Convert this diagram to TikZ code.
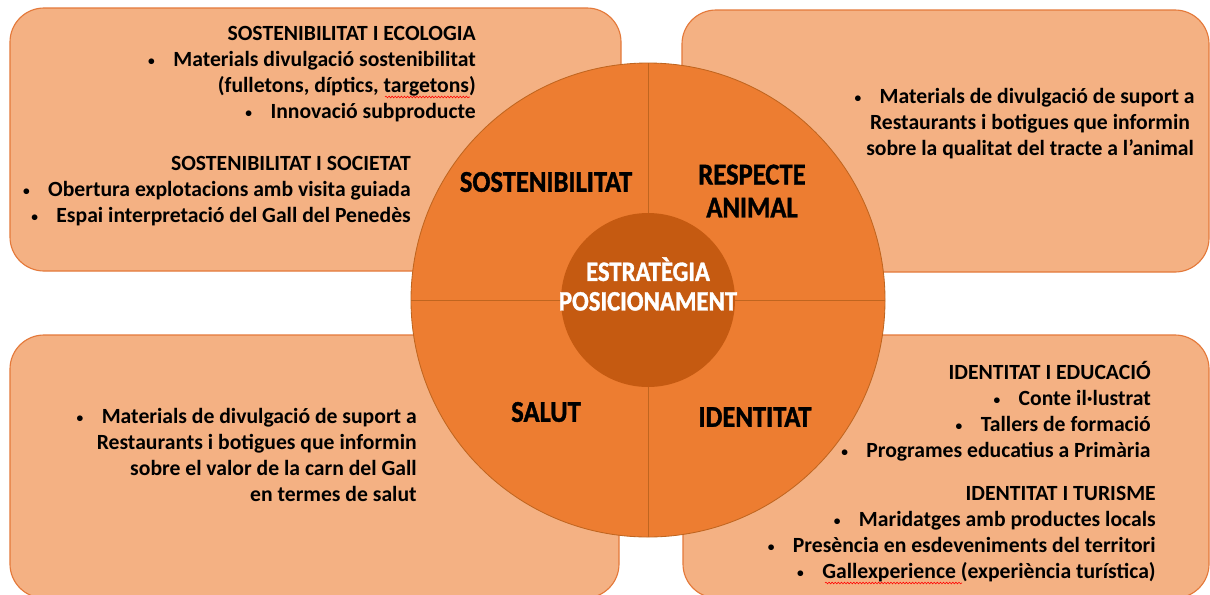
\documentclass[tikz,border=0pt]{standalone}
\usepackage{fontspec}
\setmainfont{Carlito}
\newfontfamily\narrowfont[FakeStretch=0.88,BoldFeatures={FakeBold=1.2}]{Carlito}
\usepackage{xcolor}
\definecolor{boxfill}{HTML}{F4B183}
\definecolor{boxline}{HTML}{E4793A}
\definecolor{quadfill}{HTML}{ED7D31}
\definecolor{quadline}{HTML}{C0651F}
\definecolor{corefill}{HTML}{C55A11}
\usepackage{tikz}
\usetikzlibrary{positioning,decorations.pathmorphing}

\newcommand{\blt}{\raisebox{0.12ex}{\scalebox{0.62}{\textbullet}}\hspace{0.85em}}

\begin{document}
\begin{tikzpicture}[x=0.025cm,y=-0.025cm,
box/.style={draw=boxline,fill=boxfill,line width=0.8pt,rounded corners=0.85cm},
txt/.style={font=\bfseries\fontsize{15.4}{18.5}\selectfont,inner sep=0pt,align=right,anchor=east},
quad/.style={font=\narrowfont\bfseries\fontsize{21.5}{23.5}\selectfont,inner sep=0pt,align=center},
core/.style={font=\narrowfont\bfseries\fontsize{20}{21}\selectfont,inner sep=0pt,align=center,text=white},
spellwave/.style={red,line width=0.4pt,decorate,decoration={snake,amplitude=0.6pt,segment length=2.2pt}}]
\useasboundingbox (0,0) rectangle (1210,594);
\clip (0,0) rectangle (1210,594);
\fill[white] (0,0) rectangle (1210,594);

\draw[box] (10,8) rectangle (621,271);
\draw[box] (682,10) rectangle (1209,272);
\draw[box] (10,335) rectangle (619,598);
\draw[box] (683,335) rectangle (1209,598);

\coordinate (centre) at (648,300);
\fill[quadfill] (centre) circle [radius=237];
\draw[quadline,line width=0.6pt] (centre) circle [radius=237];
\draw[quadline,line width=0.6pt] (648,63) -- (648,537) (411,300) -- (885,300);
\fill[corefill] (centre) circle [radius=87];

\node (sosteco) [txt] at (476,74) {SOSTENIBILITAT I ECOLOGIA\\
    \blt Materials divulgació sostenibilitat\hspace*{0.3em}\\
    (fulletons, díptics, targetons)\\
    \blt Innovació subproducte};
\node (sostsoc) [txt] at (411,191) {SOSTENIBILITAT I SOCIETAT\\
    \blt Obertura explotacions amb visita guiada\\
    \blt Espai interpretació del Gall del Penedès};
\node (respani) [txt,align=center,anchor=center] at (1030,124) {\blt Materials de divulgació de suport a\hspace*{0.5em}\\
    Restaurants i botigues que informin\\
    sobre la qualitat del tracte a l’animal};
\node (salsup) [txt] at (417,455) {\blt Materials de divulgació de suport a\\
    Restaurants i botigues que informin\\
    sobre el valor de la carn del Gall\\
    en termes de salut};
\node (idedu) [txt] at (1151,411) {IDENTITAT I EDUCACIÓ\\
    \blt Conte il·lustrat\\
    \blt Tallers de formació\\
    \blt Programes educatius a Primària};
\node (idtur) [txt] at (1156,534) {IDENTITAT I TURISME\\
    \blt Maridatges amb productes locals\\
    \blt Presència en esdeveniments del territori\\
    \blt Gallexperience (experiència turística)};

\coordinate (wave1a) at (385,97);
\coordinate (wave1b) at (470,97);
\coordinate (wave2a) at (825,583);
\coordinate (wave2b) at (962,583);
\draw[spellwave] (wave1a) -- (wave1b);
\draw[spellwave] (wave2a) -- (wave2b);

\node (sost) [quad] at (546,182) {SOSTENIBILITAT};
\node (resp) [quad] at (752,191) {RESPECTE\\ANIMAL};
\node (salut) [quad] at (546,412) {SALUT};
\node (ident) [quad] at (755,417) {IDENTITAT};
\node (estrat) [core] at (648,284) {ESTRATÈGIA\\POSICIONAMENT};
\end{tikzpicture}
\end{document}
